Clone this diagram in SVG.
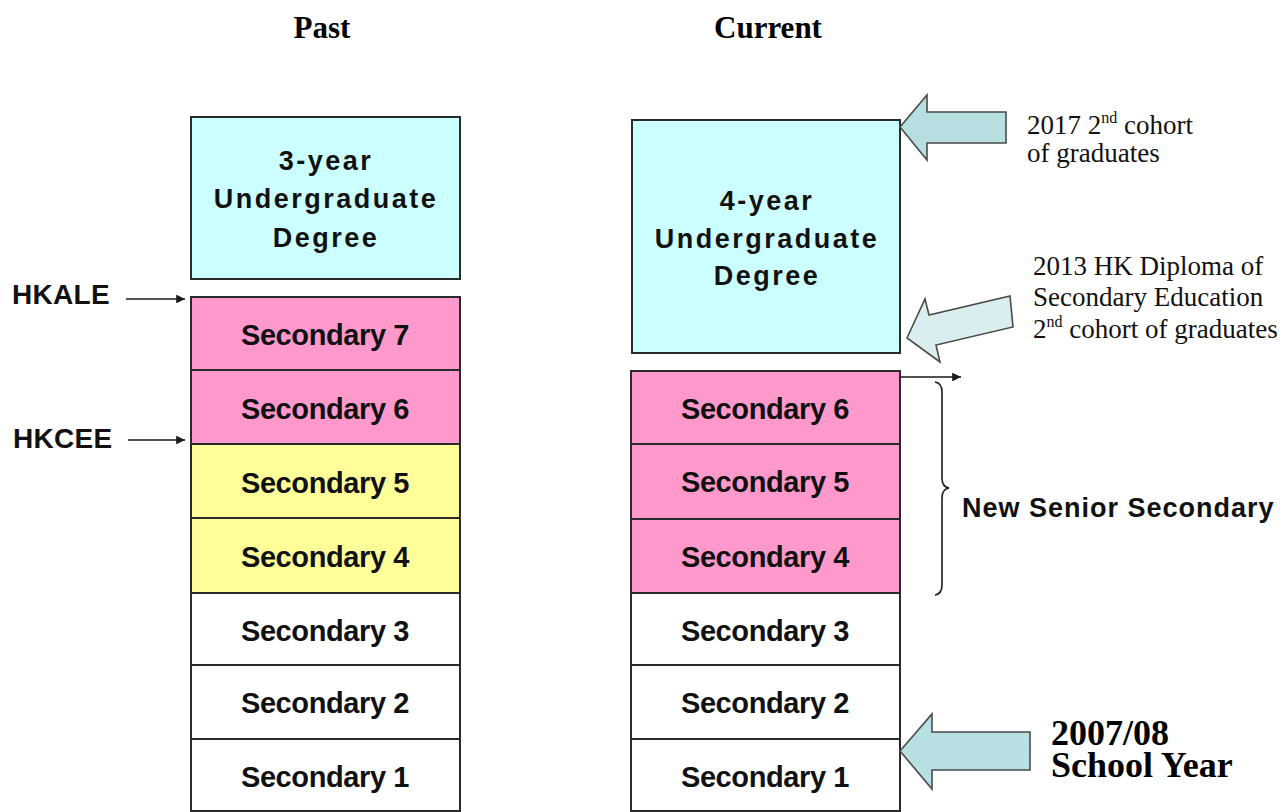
<svg xmlns="http://www.w3.org/2000/svg" width="1288" height="812" viewBox="0 0 1288 812">
  <style>
    .box { stroke: #2a2a2a; stroke-width: 2; }
    .deg { fill: #ccffff; }
    .pink { fill: #ff99cc; }
    .yel { fill: #ffff99; }
    .wht { fill: #ffffff; }
    .lbl { font-family: "Liberation Sans", Arial, sans-serif; font-weight: bold; font-size: 29px; letter-spacing: -0.4px; fill: #111; text-anchor: middle; }
    .dlbl { font-family: "Liberation Sans", Arial, sans-serif; font-weight: bold; font-size: 27px; letter-spacing: 2.5px; fill: #111; text-anchor: middle; }
    .side { font-family: "Liberation Sans", Arial, sans-serif; font-weight: bold; font-size: 28px; letter-spacing: 0.3px; fill: #111; }
    .head { font-family: "Liberation Serif", "Times New Roman", serif; font-weight: bold; font-size: 31px; fill: #000; text-anchor: middle; }
    .note { font-family: "Liberation Serif", "Times New Roman", serif; font-size: 27px; fill: #111; }
    .big { font-family: "Liberation Serif", "Times New Roman", serif; font-weight: bold; font-size: 36px; fill: #000; }
    .sup { font-size: 16px; }
    .wire { stroke: #1a1a1a; stroke-width: 1.6; fill: none; }
    .blk { stroke: #4a4a4a; stroke-width: 1.6; stroke-linejoin: miter; }
  </style>
  <defs>
    <marker id="tip" viewBox="0 0 10 10" refX="10" refY="5" markerWidth="6.5" markerHeight="5.5" orient="auto" markerUnits="strokeWidth">
      <path d="M0,0 L10,5 L0,10 Z" fill="#1a1a1a"/>
    </marker>
  </defs>

  <rect x="0" y="0" width="1288" height="812" fill="#ffffff"/>

  <!-- column headings -->
  <text class="head" x="322" y="38">Past</text>
  <text class="head" x="768" y="38">Current</text>

  <!-- past system -->
  <g id="past-degree">
    <rect class="box deg" x="191" y="117" width="269" height="162"/>
    <text class="dlbl" x="326" y="170">3-year</text>
    <text class="dlbl" x="326" y="208">Undergraduate</text>
    <text class="dlbl" x="326" y="247">Degree</text>
  </g>
  <g id="past-s7">
    <rect class="box pink" x="191" y="297" width="269" height="73"/>
    <text class="lbl" x="325" y="345">Secondary 7</text>
  </g>
  <g id="past-s6">
    <rect class="box pink" x="191" y="370" width="269" height="74"/>
    <text class="lbl" x="325" y="419">Secondary 6</text>
  </g>
  <g id="past-s5">
    <rect class="box yel" x="191" y="444" width="269" height="74"/>
    <text class="lbl" x="325" y="493">Secondary 5</text>
  </g>
  <g id="past-s4">
    <rect class="box yel" x="191" y="518" width="269" height="75"/>
    <text class="lbl" x="325" y="567">Secondary 4</text>
  </g>
  <g id="past-s3">
    <rect class="box wht" x="191" y="593" width="269" height="72"/>
    <text class="lbl" x="325" y="641">Secondary 3</text>
  </g>
  <g id="past-s2">
    <rect class="box wht" x="191" y="665" width="269" height="74"/>
    <text class="lbl" x="325" y="713">Secondary 2</text>
  </g>
  <g id="past-s1">
    <rect class="box wht" x="191" y="739" width="269" height="72"/>
    <text class="lbl" x="325" y="787">Secondary 1</text>
  </g>
  <g id="hkale">
    <text class="side" x="12" y="304">HKALE</text>
  </g>
  <g id="hkcee">
    <text class="side" x="13" y="448">HKCEE</text>
  </g>

  <!-- current system -->
  <g id="current-degree">
    <rect class="box deg" x="632" y="120" width="268" height="233"/>
    <text class="dlbl" x="767" y="210">4-year</text>
    <text class="dlbl" x="767" y="248">Undergraduate</text>
    <text class="dlbl" x="767" y="285">Degree</text>
  </g>
  <g id="current-s6">
    <rect class="box pink" x="631" y="371" width="269" height="73"/>
    <text class="lbl" x="765" y="419">Secondary 6</text>
  </g>
  <g id="current-s5">
    <rect class="box pink" x="631" y="444" width="269" height="75"/>
    <text class="lbl" x="765" y="492">Secondary 5</text>
  </g>
  <g id="current-s4">
    <rect class="box pink" x="631" y="519" width="269" height="74"/>
    <text class="lbl" x="765" y="567">Secondary 4</text>
  </g>
  <g id="current-s3">
    <rect class="box wht" x="631" y="593" width="269" height="72"/>
    <text class="lbl" x="765" y="641">Secondary 3</text>
  </g>
  <g id="current-s2">
    <rect class="box wht" x="631" y="665" width="269" height="74"/>
    <text class="lbl" x="765" y="713">Secondary 2</text>
  </g>
  <g id="current-s1">
    <rect class="box wht" x="631" y="739" width="269" height="72"/>
    <text class="lbl" x="765" y="787">Secondary 1</text>
  </g>
  <g id="nss">
    <text class="side" x="962" y="517" style="font-size:27px;letter-spacing:1px">New Senior Secondary</text>
  </g>

  <!-- connectors -->
  <g id="connectors">
    <line class="wire" x1="126" y1="299" x2="185" y2="299" marker-end="url(#tip)"/>
    <line class="wire" x1="128" y1="440" x2="185" y2="440" marker-end="url(#tip)"/>
    <line class="wire" x1="900" y1="377" x2="961" y2="377" marker-end="url(#tip)"/>
    <path class="wire" d="M935,382 Q942,383 942,392 L942,478 Q942,487 949,488 Q942,489 942,498 L942,585 Q942,594 935,595"/>
  </g>

  <!-- block arrows with notes -->
  <g id="cohort-2017">
    <path class="blk" fill="#b7dfe2" d="M900,127 L927,95 L927,112 L1006,112 L1006,143 L927,143 L927,160 Z"/>
    <text class="note" x="1027" y="134">2017 2<tspan class="sup" dy="-11">nd</tspan><tspan dy="11"> cohort</tspan></text>
    <text class="note" x="1027" y="162">of graduates</text>
  </g>
  <g id="cohort-2013">
    <path class="blk" fill="#daeef0" d="M907,338 L925,299 L929,315 L1010,296 L1013,327 L936,345 L940,362 Z"/>
    <text class="note" x="1033" y="275">2013 HK Diploma of</text>
    <text class="note" x="1033" y="306">Secondary Education</text>
    <text class="note" x="1033" y="338">2<tspan class="sup" dy="-11">nd</tspan><tspan dy="11"> cohort of graduates</tspan></text>
  </g>
  <g id="start-year">
    <path class="blk" fill="#b8dfe2" d="M900,751 L932,714 L932,732 L1030,732 L1030,770 L932,770 L932,789 Z"/>
    <text class="big" x="1051" y="745">2007/08<tspan x="1051" dy="32">School Year</tspan></text>
  </g>
</svg>
